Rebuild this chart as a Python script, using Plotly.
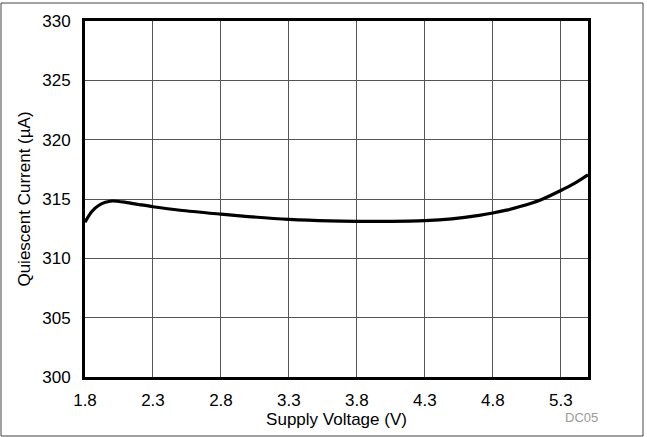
import plotly.graph_objects as go

# Supply voltage (V) vs quiescent current (uA)
voltage = [1.80, 1.85, 1.90, 1.95, 2.00, 2.10, 2.20, 2.30, 2.50, 2.80, 3.00, 3.30,
           3.60, 3.80, 4.00, 4.30, 4.50, 4.70, 4.80, 4.90, 5.00, 5.15, 5.30, 5.40, 5.50]
current = [313.05, 313.95, 314.45, 314.72, 314.83, 314.72, 314.53, 314.35, 314.05, 313.72,
           313.52, 313.28, 313.15, 313.12, 313.12, 313.18, 313.33, 313.62, 313.82, 314.06,
           314.36, 314.92, 315.72, 316.32, 317.04]

x_ticks = [1.8, 2.3, 2.8, 3.3, 3.8, 4.3, 4.8, 5.3]
y_ticks = [300, 305, 310, 315, 320, 325, 330]

font_family = "Liberation Sans, Arial, sans-serif"
grid_color = "#555555"

# plot area in pixels (reference)
L, R, T, B = 85, 588, 21, 377
W, H = 647, 437

def px_x(px):
    return (px - L) / (R - L)

def px_y(py):
    return (B - py) / (B - T)

fig = go.Figure()

fig.add_trace(go.Scatter(
    x=voltage, y=current,
    mode="lines",
    line=dict(color="black", width=3.2, shape="spline", smoothing=0.8),
    showlegend=False,
    hoverinfo="skip"
))

fig.update_xaxes(
    range=[1.8, 5.5],
    tickvals=x_ticks,
    ticktext=[f"{v:.1f}" for v in x_ticks],
    showgrid=True, gridcolor=grid_color, gridwidth=1,
    showline=True, linecolor="black", linewidth=3, mirror=True,
    zeroline=False,
    ticks="outside", ticklen=6, tickcolor="rgba(0,0,0,0)",
    tickfont=dict(size=17, color="black", family=font_family),
    title=dict(text="Supply Voltage (V)", standoff=4,
               font=dict(size=17, color="black", family=font_family)),
)

fig.update_yaxes(
    range=[300, 330],
    tickvals=y_ticks,
    showgrid=True, gridcolor=grid_color, gridwidth=1,
    showline=True, linecolor="black", linewidth=3, mirror=True,
    zeroline=False,
    ticks="outside", ticklen=8, tickcolor="rgba(0,0,0,0)",
    tickfont=dict(size=17, color="black", family=font_family),
    title=dict(text="Quiescent Current (µA)", standoff=8,
               font=dict(size=17, color="black", family=font_family)),
)

# figure id in the corner
fig.add_annotation(
    xref="paper", yref="paper", x=px_x(600), y=px_y(427),
    text="DC05", showarrow=False,
    font=dict(size=13, color="#999999", family=font_family),
)

# thin frame around the whole picture
fig.add_shape(type="rect", xref="paper", yref="paper",
              x0=px_x(1), x1=px_x(643), y0=px_y(436), y1=px_y(3),
              line=dict(color="#444444", width=1), layer="below")

fig.update_layout(
    width=W, height=H,
    margin=dict(l=L, r=W - R, t=T, b=H - B, autoexpand=False),
    plot_bgcolor="white",
    paper_bgcolor="white",
    font=dict(family=font_family),
)

fig.write_html("out.html", config={"displayModeBar": False},
               post_script="document.body.style.margin='0';")
